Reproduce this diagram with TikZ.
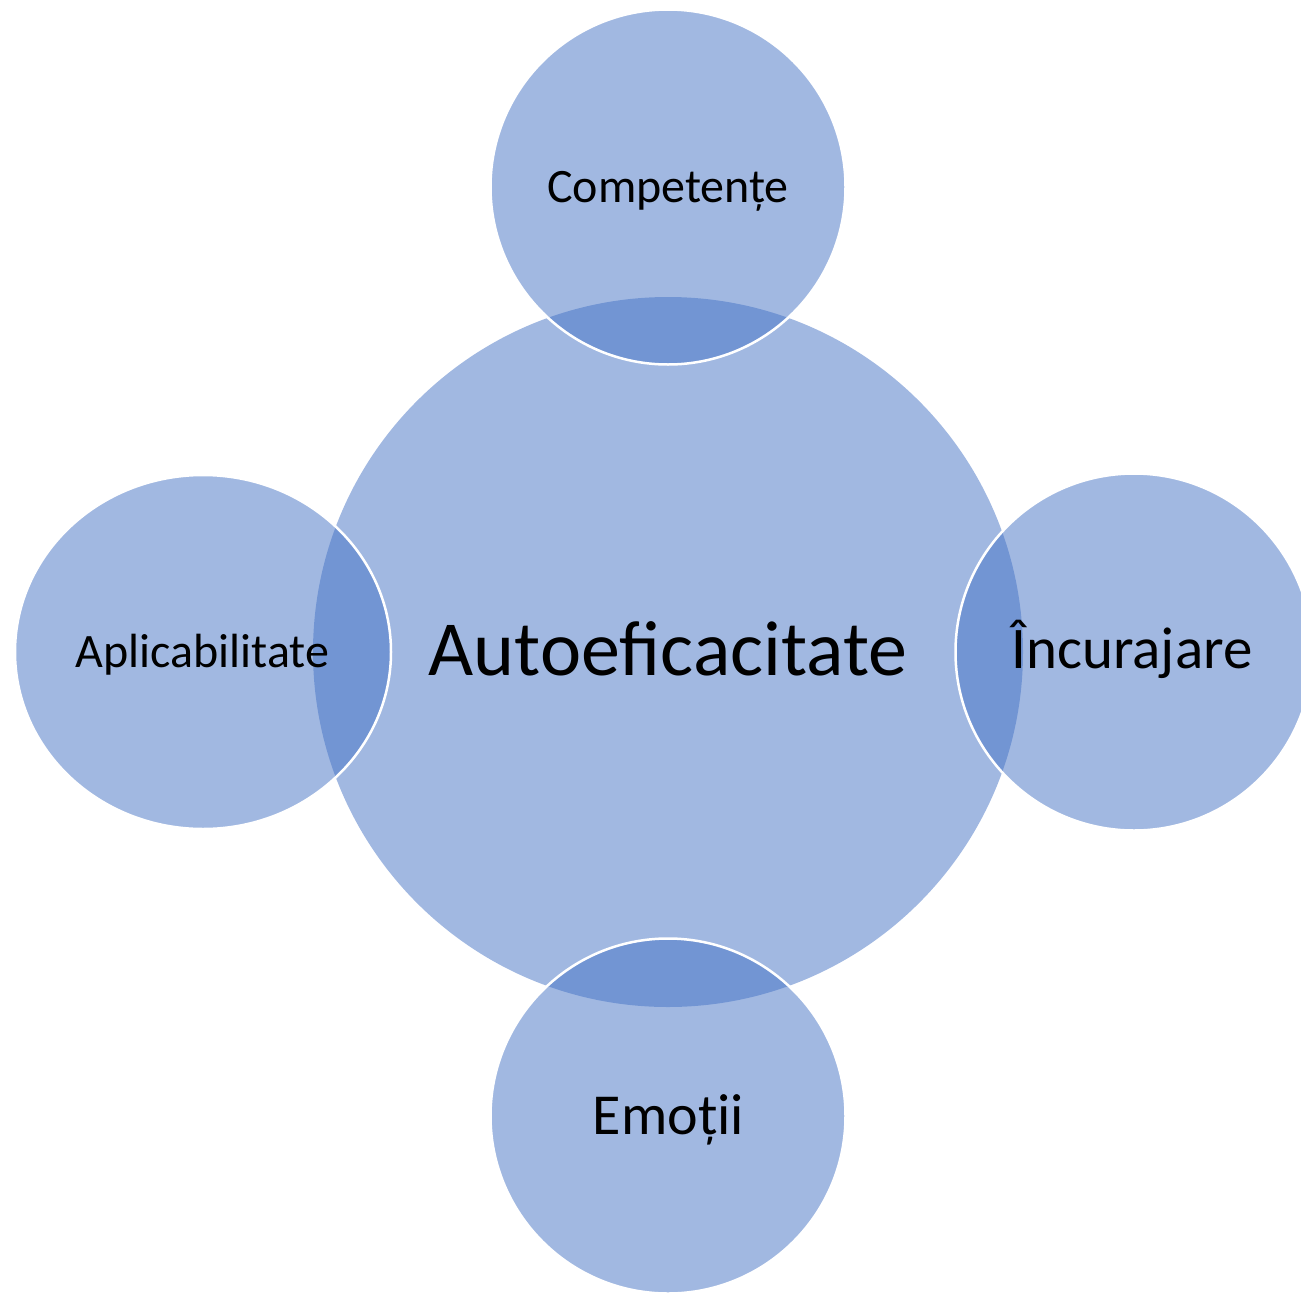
\documentclass[tikz,border=0pt]{standalone}
\usepackage{fontspec}
\setmainfont{Carlito}
\usetikzlibrary{shapes.geometric}
\definecolor{accent}{HTML}{4472C4}
\begin{document}
\begin{tikzpicture}[x=1pt,y=-1pt,
  bubble/.style={fill=accent, fill opacity=0.5, draw=white, draw opacity=1, line width=2.5pt, inner sep=0pt, outer sep=0pt},
  lbl/.style={anchor=base, text=black, inner sep=0pt}]
\useasboundingbox (0,0) rectangle (1301,1293);
\clip (0,0) rectangle (1301,1293);
\node[circle, fill=accent, fill opacity=0.5, inner sep=0pt, minimum size=710pt] (center) at (668,652) {};
\node[bubble, circle, minimum size=355pt] (top) at (668,187) {};
\node[bubble, circle, minimum size=355pt] (bottom) at (668,1116) {};
\node[bubble, ellipse, minimum width=376pt, minimum height=354pt] (left) at (203,652) {};
\node[bubble, circle, minimum size=357pt] (right) at (1134,652) {};
\node[lbl] (tcenter) at (668,675) {\fontsize{78}{90}\selectfont Autoeficacitate};
\node[lbl] (ttop) at (668,202) {\fontsize{48}{56}\selectfont Competențe};
\node[lbl] (tleft) at (202.5,667) {\fontsize{48}{56}\selectfont Aplicabilitate};
\node[lbl] (tright) at (1132,668) {\fontsize{59}{68}\selectfont Încurajare};
\node[lbl] (tbottom) at (668.5,1134) {\fontsize{58}{66}\selectfont Emoții};
\end{tikzpicture}
\end{document}
